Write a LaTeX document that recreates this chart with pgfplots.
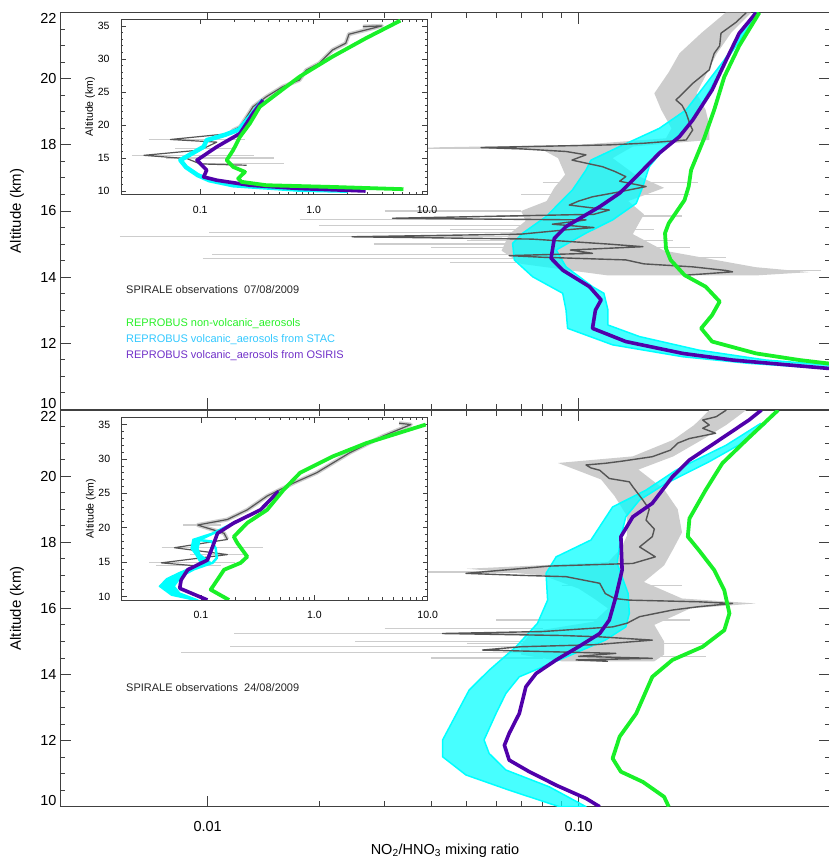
\documentclass[border=0pt]{standalone}
\usepackage{fontspec}
\setmainfont{Liberation Sans}
\usepackage{pgfplots}
\pgfplotsset{compat=1.18}

\definecolor{cgreen}{RGB}{25,240,40}
\definecolor{ccyan}{RGB}{0,255,255}
\definecolor{cpurple}{RGB}{80,0,170}
\definecolor{tpurple}{RGB}{112,48,200}
\definecolor{tcyan}{RGB}{50,200,255}
\definecolor{tgreen}{RGB}{40,240,40}
\definecolor{dgray}{RGB}{85,85,85}
\definecolor{lgray}{RGB}{205,205,205}

\tikzset{
 obsband/.style={fill=lgray, draw=none},
 obsline/.style={dgray, line width=1.4pt, line join=round},
 greenline/.style={cgreen, line width=3.8pt, line join=round},
 purpleline/.style={cpurple, line width=3.6pt, line join=round},
 cyanband/.style={fill=ccyan, fill opacity=0.72, draw=ccyan, line width=1.5pt, line join=round},
 spike/.style={lgray, line width=1.1pt},
}
\newcommand{\up}[1]{\raisebox{6pt}[\height][\depth]{#1}}
\newcommand{\dn}[1]{\raisebox{-6pt}[\height][\depth]{#1}}

\begin{document}
\begin{tikzpicture}[x=1pt,y=1pt]
\useasboundingbox (0,0) rectangle (828,860);

% ================= upper main panel =================
\begin{axis}[scale only axis, width=770pt, height=396.6pt, anchor=south west, at={(60pt,450.7pt)},
  xmode=log, xmin=0.004, xmax=0.476, ymin=10, ymax=22,
  ytick={10,12,14,16,18,20,22}, yticklabels={\up{10},12,14,16,18,20,\dn{22}}, minor y tick num=3,
  xtick={0.01,0.1}, xticklabels={,},
  tick align=inside, major tick length=11pt, minor tick length=5.5pt,
  axis line style={line width=0.9pt, black!75},
  tick style={black!75, line width=0.9pt},
  tick label style={font=\fontsize{14.5}{16}\selectfont},
  ylabel={Altitude (km)},
  ylabel style={at={(axis description cs:-0.0558,0.5)}, anchor=center, font=\fontsize{15}{16}\selectfont}]
\addplot[obsband] coordinates {
(0.249,22) (0.215,21.4) (0.187,20.77) (0.175,20.2) (0.160,19.56) (0.167,19.06) (0.178,18.5) (0.172,18.2)
(0.10,18.0) (0.038,17.92) (0.08,17.85) (0.088,17.6) (0.092,17.1) (0.086,16.7) (0.082,16.3) (0.07,16.0)
(0.072,15.7) (0.065,15.3) (0.062,14.8) (0.07,14.4) (0.12,14.05)
(0.30,14.05) (0.42,14.15) (0.30,14.3) (0.17,14.8) (0.14,15.3) (0.150,15.9) (0.136,16.3) (0.170,16.7)
(0.142,17.1) (0.1235,17.6) (0.14,17.95) (0.225,18.15) (0.225,18.6) (0.220,19.06) (0.208,19.56)
(0.236,20.77) (0.258,21.4) (0.292,22)};
\addplot[spike] coordinates {(0.0058,15.22) (0.07,15.22)};
\addplot[spike] coordinates {(0.0101,15.36) (0.07,15.36)};
\addplot[spike] coordinates {(0.0103,14.69) (0.07,14.69)};
\addplot[spike] coordinates {(0.0097,14.57) (0.07,14.57)};
\addplot[spike] coordinates {(0.0177,15.75) (0.07,15.75)};
\addplot[spike] coordinates {(0.020,15.55) (0.07,15.55)};
\addplot[spike] coordinates {(0.030,16.0) (0.07,16.0)};
\addplot[spike] coordinates {(0.028,15.0) (0.07,15.0)};
\addplot[spike] coordinates {(0.035,17.9) (0.1,17.9)};
\addplot[spike] coordinates {(0.045,14.45) (0.1,14.45)};
\addplot[spike] coordinates {(0.040,14.9) (0.2,14.9)};
\addplot[spike] coordinates {(0.050,15.1) (0.18,15.1)};
\addplot[spike] coordinates {(0.045,15.45) (0.16,15.45)};
\addplot[spike] coordinates {(0.060,15.85) (0.19,15.85)};
\addplot[spike] coordinates {(0.070,16.5) (0.20,16.5)};
\addplot[spike] coordinates {(0.080,16.85) (0.21,16.85)};
\addplot[spike] coordinates {(0.10,14.6) (0.25,14.6)};
\addplot[spike] coordinates {(0.15,14.2) (0.45,14.2)};
\addplot[cyanband] coordinates {
(0.298,22) (0.262,21.0) (0.247,20.57) (0.195,19.06) (0.165,18.5) (0.129,17.95) (0.108,17.54) (0.1047,17.24)
(0.0963,16.64) (0.0817,15.83) (0.0707,15.33) (0.0664,15.02) (0.0671,14.52) (0.0752,14.01) (0.0906,13.51)
(0.0925,13.0) (0.0934,12.45) (0.1235,11.95) (0.191,11.59) (0.288,11.39) (0.6,11.15)
(0.6,11.25) (0.32,11.49) (0.211,11.79) (0.146,12.2) (0.120,12.55) (0.120,13.0) (0.117,13.51) (0.109,13.71)
(0.0925,14.31) (0.087,14.82) (0.1047,15.33) (0.1235,15.73) (0.143,16.23) (0.149,16.74) (0.155,17.34)
(0.172,17.95) (0.193,18.45) (0.211,19.06) (0.25,20.57) (0.266,21.0) (0.304,22)};
\addplot[obsline] coordinates {
(0.283,22.0) (0.265,21.7) (0.242,21.38) (0.240,21.0) (0.232,20.77) (0.228,20.5) (0.225,20.27) (0.203,19.86)
(0.191,19.56) (0.183,19.36) (0.190,19.2) (0.195,18.96) (0.200,18.6) (0.203,18.45) (0.195,18.15) (0.150,18.05)
(0.121,18.0) (0.0546,17.92) (0.070,17.88) (0.0925,17.8) (0.1047,17.7) (0.096,17.54) (0.116,17.34) (0.125,17.2)
(0.134,17.04) (0.129,16.9) (0.152,16.74) (0.129,16.58) (0.109,16.43) (0.100,16.3) (0.0944,16.18) (0.121,16.03)
(0.110,15.9) (0.0315,15.78) (0.1047,15.73) (0.085,15.6) (0.11,15.5) (0.0925,15.43) (0.070,15.3) (0.0245,15.22)
(0.075,15.15) (0.12,15.0) (0.149,14.92) (0.095,14.82) (0.109,14.72) (0.065,14.65) (0.08,14.6) (0.134,14.52)
(0.15,14.4) (0.203,14.31) (0.25,14.2) (0.26,14.16) (0.22,14.1) (0.195,14.06)};
\addplot[purpleline] coordinates {
(0.301,22) (0.271,21.38) (0.250,20.57) (0.229,19.66) (0.203,18.75) (0.187,18.25) (0.165,17.75) (0.146,17.14)
(0.129,16.54) (0.114,16.13) (0.0925,15.53) (0.0860,15.17) (0.0843,14.57) (0.0906,14.21) (0.107,13.71)
(0.115,13.31) (0.111,13.0) (0.109,12.45) (0.134,12.05) (0.191,11.69) (0.260,11.49) (0.468,11.24) (0.8,11.1)};
\addplot[greenline] coordinates {
(0.307,22) (0.271,21.0) (0.247,20.06) (0.232,19.06) (0.218,18.2) (0.201,17.24) (0.198,16.74) (0.193,16.33)
(0.175,15.63) (0.171,15.33) (0.172,14.87) (0.177,14.52) (0.193,14.06) (0.220,13.71) (0.240,13.26)
(0.229,12.85) (0.214,12.45) (0.229,12.05) (0.301,11.69) (0.394,11.49) (0.468,11.39) (0.8,11.25)};
\end{axis}

% ================= lower main panel =================
\begin{axis}[scale only axis, width=770pt, height=396.6pt, anchor=south west, at={(60pt,53.3pt)},
  xmode=log, xmin=0.004, xmax=0.476, ymin=10, ymax=22,
  ytick={10,12,14,16,18,20,22}, yticklabels={\up{10},12,14,16,18,20,\dn{22}}, minor y tick num=3,
  xtick={0.01,0.1}, xticklabels={0.01,0.10},
  tick align=inside, major tick length=11pt, minor tick length=5.5pt,
  axis line style={line width=0.9pt, black!75},
  tick style={black!75, line width=0.9pt},
  tick label style={font=\fontsize{14.5}{16}\selectfont},
  xticklabel style={yshift=-11pt},
  ylabel={Altitude (km)},
  ylabel style={at={(axis description cs:-0.0558,0.5)}, anchor=center, font=\fontsize{15}{16}\selectfont},
  xlabel={NO\textsubscript{2}/HNO\textsubscript{3} mixing ratio},
  xlabel style={at={(axis description cs:0.5,0)}, anchor=center, yshift=-44pt, font=\fontsize{14.5}{16}\selectfont}]
\addplot[obsband] coordinates {
(0.225,22) (0.205,21.55) (0.18,21.1) (0.14,20.6) (0.088,20.4) (0.098,20.2) (0.115,19.9) (0.125,19.4)
(0.135,18.8) (0.135,18.2) (0.13,17.8) (0.12,17.4) (0.05,17.2) (0.08,17.0) (0.10,16.6) (0.11,16.3)
(0.12,16.0) (0.11,15.6) (0.075,15.3) (0.07,14.9) (0.07,14.6) (0.09,14.4)
(0.16,14.4) (0.17,14.6) (0.17,15.0) (0.16,15.5) (0.20,16.0) (0.30,16.15) (0.19,16.3) (0.15,16.8)
(0.17,17.3) (0.18,17.8) (0.19,18.3) (0.185,19.0) (0.17,19.6) (0.145,20.2) (0.18,20.6) (0.215,21.1)
(0.250,21.55) (0.283,22)};
\addplot[spike] coordinates {(0.0118,15.24) (0.08,15.24)};
\addplot[spike] coordinates {(0.0115,14.84) (0.08,14.84)};
\addplot[spike] coordinates {(0.0085,14.67) (0.08,14.67)};
\addplot[spike] coordinates {(0.035,17.1) (0.08,17.1)};
\addplot[spike] coordinates {(0.025,15.0) (0.08,15.0)};
\addplot[spike] coordinates {(0.030,15.4) (0.08,15.4)};
\addplot[spike] coordinates {(0.04,14.5) (0.08,14.5)};
\addplot[spike] coordinates {(0.05,14.95) (0.22,14.95)};
\addplot[spike] coordinates {(0.06,15.65) (0.20,15.65)};
\addplot[spike] coordinates {(0.09,16.7) (0.19,16.7)};
\addplot[spike] coordinates {(0.10,14.55) (0.22,14.55)};
\addplot[cyanband] coordinates {
(0.31,21.6) (0.25,20.94) (0.203,20.44) (0.183,20.18) (0.152,19.58) (0.1235,19.07) (0.108,18.07) (0.087,17.56)
(0.0817,17.06) (0.0825,16.25) (0.0775,15.55) (0.0678,14.84) (0.0574,14.13) (0.0507,13.53) (0.0430,12.02)
(0.0430,11.51) (0.0497,10.96) (0.0650,10.50) (0.0887,10.0)
(0.1047,10.0) (0.0834,10.60) (0.0637,11.11) (0.0574,11.61) (0.0556,12.02) (0.0599,12.82) (0.0637,13.43)
(0.0692,13.93) (0.0887,14.44) (0.118,15.04) (0.134,15.44) (0.137,15.85) (0.136,16.45) (0.127,17.36)
(0.130,18.17) (0.134,18.77) (0.146,19.28) (0.172,19.78) (0.225,20.44) (0.27,20.94) (0.32,21.6)};
\addplot[obsline] coordinates {
(0.250,22.0) (0.235,21.8) (0.216,21.7) (0.225,21.55) (0.216,21.45) (0.234,21.3) (0.199,21.14) (0.185,21.0)
(0.177,20.79) (0.158,20.59) (0.130,20.45) (0.118,20.39) (0.1047,20.34) (0.108,20.25) (0.114,20.18)
(0.121,19.93) (0.137,19.83) (0.140,19.68) (0.149,19.28) (0.155,19.0) (0.152,18.67) (0.160,18.4) (0.158,18.17)
(0.146,17.86) (0.161,17.56) (0.140,17.36) (0.0834,17.28) (0.0497,17.06) (0.07,17.0) (0.0925,16.96)
(0.114,16.76) (0.118,16.45) (0.125,16.3) (0.137,16.25) (0.211,16.2) (0.260,16.15) (0.21,16.05) (0.179,15.95)
(0.146,15.75) (0.135,15.55) (0.1235,15.44) (0.08,15.3) (0.043,15.24) (0.09,15.18) (0.114,15.14) (0.158,15.04)
(0.11,14.9) (0.07,14.84) (0.0551,14.74) (0.126,14.64) (0.10,14.55) (0.158,14.49) (0.0984,14.44) (0.12,14.4)};
\addplot[purpleline] coordinates {
(0.311,22) (0.288,21.70) (0.239,21.09) (0.199,20.49) (0.179,19.98) (0.158,19.18) (0.140,18.77) (0.130,18.17)
(0.131,17.16) (0.126,16.35) (0.121,15.65) (0.114,15.24) (0.100,14.84) (0.0870,14.44) (0.0768,14.03)
(0.0721,13.63) (0.0692,12.82) (0.0650,12.22) (0.0631,11.86) (0.0650,11.41) (0.0736,11.06) (0.087,10.65)
(0.1047,10.25) (0.114,10.0)};
\addplot[greenline] coordinates {
(0.345,22) (0.283,21.09) (0.244,20.39) (0.220,19.58) (0.199,18.72) (0.197,18.17) (0.211,17.76) (0.232,17.16)
(0.247,16.55) (0.255,15.85) (0.247,15.34) (0.216,14.84) (0.179,14.44) (0.158,13.93) (0.143,12.82)
(0.129,12.12) (0.1235,11.46) (0.130,11.06) (0.149,10.75) (0.170,10.30) (0.175,10.0)};
\end{axis}

% ================= upper inset =================
\begin{axis}[scale only axis, width=306pt, height=175pt, anchor=south west, at={(121pt,665.7pt)},
  xmode=log, xmin=0.02, xmax=10, ymin=9.5, ymax=36,
  xtick={0.1,1,10}, xticklabels={0.1,1.0,10.0},
  ytick={10,15,20,25,30,35}, yticklabels={10,15,20,25,30,35}, minor y tick num=4,
  tick align=inside, major tick length=5pt, minor tick length=2.5pt,
  axis line style={line width=0.7pt, black!75},
  tick style={black!75, line width=0.6pt},
  tick label style={font=\fontsize{10.5}{12}\selectfont},
  xticklabel style={yshift=-8pt}, yticklabel style={xshift=-8pt},
  ylabel={Altitude (km)},
  ylabel style={at={(axis description cs:-0.101,0.5)}, anchor=center, font=\fontsize{10.5}{12}\selectfont},
  axis background/.style={fill=white}]
\addplot[lgray, line width=4pt, line join=round] coordinates {
(2.72,34.9) (4.0,35.0) (2.05,33.74) (1.92,32.37) (1.47,31.36) (1.12,29.34) (0.86,28.3) (0.75,26.8)
(0.535,25.8) (0.383,24.27) (0.292,22.75) (0.256,21.2) (0.224,19.7) (0.195,19.2) (0.183,18.7)};
\addplot[spike] coordinates {(0.035,17.8) (0.25,17.8)};
\addplot[spike] coordinates {(0.025,15.4) (0.30,15.4)};
\addplot[spike] coordinates {(0.05,15.0) (0.45,15.0)};
\addplot[spike] coordinates {(0.10,14.1) (0.55,14.1)};
\addplot[spike] coordinates {(0.06,16.4) (0.2,16.4)};
\addplot[obsline, line width=1.2pt] coordinates {
(2.72,34.9) (4.0,35.0) (2.05,33.74) (1.92,32.37) (1.47,31.36) (1.12,29.34) (0.86,28.3) (0.75,26.8)
(0.535,25.8) (0.383,24.27) (0.292,22.75) (0.256,21.2) (0.224,19.7) (0.195,19.2) (0.183,18.7)
(0.0547,17.8) (0.14,17.4) (0.10,16.2) (0.0319,15.4) (0.0765,14.9) (0.10,14.1) (0.256,13.9)};
\addplot[ccyan, line width=4.5pt, line join=round] coordinates {
(0.358,23.77) (0.29,21.75) (0.22,19.3) (0.165,18.5) (0.114,17.7) (0.107,16.69) (0.0668,14.67) (0.075,13.6)
(0.095,12.4) (0.12,11.63) (0.195,10.87) (0.75,10.2) (2.0,10.05)};
\addplot[purpleline] coordinates {
(0.358,23.77) (0.292,21.75) (0.224,18.71) (0.140,16.69) (0.0936,14.67) (0.114,13.15) (0.107,12.13)
(0.140,11.63) (0.274,10.87) (0.75,10.37) (2.87,10.0)};
\addplot[greenline] coordinates {
(5.82,35.8) (2.87,33.1) (1.47,30.35) (0.75,27.3) (0.438,24.27) (0.335,22.75) (0.274,20.23) (0.224,18.2)
(0.195,16.18) (0.171,14.67) (0.195,13.65) (0.248,12.89) (0.216,11.89) (0.232,11.38) (0.383,10.87)
(1.47,10.61) (6.2,10.27)};
\end{axis}

% ================= lower inset =================
\begin{axis}[scale only axis, width=306pt, height=182.3pt, anchor=south west, at={(121.7pt,260pt)},
  xmode=log, xmin=0.02, xmax=10, ymin=9.5, ymax=36,
  xtick={0.1,1,10}, xticklabels={0.1,1.0,10.0},
  ytick={10,15,20,25,30,35}, yticklabels={10,15,20,25,30,35}, minor y tick num=4,
  tick align=inside, major tick length=5pt, minor tick length=2.5pt,
  axis line style={line width=0.7pt, black!75},
  tick style={black!75, line width=0.6pt},
  tick label style={font=\fontsize{10.5}{12}\selectfont},
  xticklabel style={yshift=-8pt}, yticklabel style={xshift=-8pt},
  ylabel={Altitude (km)},
  ylabel style={at={(axis description cs:-0.101,0.5)}, anchor=center, font=\fontsize{10.5}{12}\selectfont},
  axis background/.style={fill=white}]
\addplot[lgray, line width=4pt, line join=round] coordinates {
(5.6,35.2) (7.1,35.0) (4.0,33.3) (2.05,30.9) (1.05,28.0) (0.655,26.5) (0.383,24.6) (0.256,22.6) (0.171,21.2)
(0.0936,20.4) (0.16,19.2) (0.171,18.3)};
\addplot[spike] coordinates {(0.045,17.1) (0.35,17.1)};
\addplot[spike] coordinates {(0.035,14.9) (0.20,14.9)};
\addplot[spike] coordinates {(0.04,14.5) (0.15,14.5)};
\addplot[spike] coordinates {(0.07,20.4) (0.15,20.4)};
\addplot[spike] coordinates {(0.08,16.1) (0.25,16.1)};
\addplot[obsline, line width=1.2pt] coordinates {
(5.6,35.2) (7.1,35.0) (4.0,33.3) (2.05,30.9) (1.05,28.0) (0.655,26.5) (0.383,24.6) (0.256,22.6) (0.171,21.2)
(0.0936,20.4) (0.16,19.2) (0.171,18.3) (0.0584,17.1) (0.171,16.1) (0.0447,14.9) (0.1,14.4)};
\addplot[cyanband, fill opacity=1] coordinates {
(0.48,25.3) (0.33,22.6) (0.19,20.7) (0.125,19.2) (0.085,18.3) (0.082,17.0) (0.090,16.1) (0.10,14.8)
(0.065,13.5) (0.050,12.6) (0.043,11.5) (0.055,10.2) (0.087,9.5)
(0.094,9.5) (0.065,10.5) (0.058,11.5) (0.067,12.9) (0.087,13.9) (0.125,14.8) (0.098,16.1) (0.094,17.0)
(0.098,18.2) (0.14,19.4) (0.20,20.7) (0.34,22.6) (0.49,25.3)};
\addplot[ccyan, line width=2.5pt, line join=round] coordinates {
(0.098,18.2) (0.125,18.0) (0.135,17.0) (0.138,15.6) (0.125,14.8)};
\addplot[purpleline] coordinates {
(0.484,25.3) (0.335,22.6) (0.195,20.7) (0.140,19.2) (0.127,17.3) (0.114,15.3) (0.0765,13.9) (0.0668,12.4)
(0.065,11.2) (0.114,9.5)};
\addplot[greenline] coordinates {
(9.6,35.0) (2.87,32.3) (1.47,30.4) (0.75,28.0) (0.535,25.5) (0.383,22.6) (0.256,20.7) (0.195,18.7)
(0.209,17.8) (0.256,15.8) (0.224,14.9) (0.16,13.9) (0.122,11.0) (0.177,9.5)};
\end{axis}

% ================= annotations =================
\begin{scope}[every node/.style={anchor=west, inner sep=0pt, font=\fontsize{11}{13}\selectfont}]
\node[text=black!85] at (126pt,570pt) {SPIRALE observations\ \ 07/08/2009};
\node[text=tgreen] at (126pt,536.7pt) {REPROBUS non-volcanic\_aerosols};
\node[text=tcyan] at (126pt,520.7pt) {REPROBUS volcanic\_aerosols from STAC};
\node[text=tpurple] at (126pt,504.7pt) {REPROBUS volcanic\_aerosols from OSIRIS};
\node[text=black!85] at (126pt,172.3pt) {SPIRALE observations\ \ 24/08/2009};
\end{scope}
\end{tikzpicture}
\end{document}
